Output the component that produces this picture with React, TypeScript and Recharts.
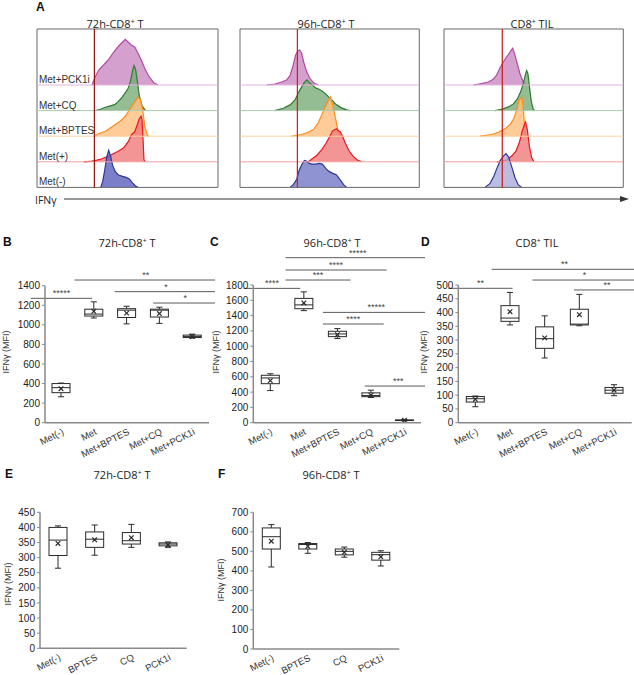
import React from 'react';
import { ComposedChart, Area, Bar, XAxis, YAxis, ReferenceLine, ReferenceArea } from 'recharts';

// ---------------- Panel A: flow histograms (x = IFNγ, % of log axis; h = scaled count) ----------------
const ROWS = ['Met(-)', 'Met(+)', 'Met+BPTES', 'Met+CQ', 'Met+PCK1i'];
const HIST_TITLES = ['72h-CD8', '96h-CD8', 'CD8'];
const HIST_TITLE_TAIL = [' T', ' T', ' TIL'];

const H72_PCK = [[30.4,0],[32.2,8.3],[34.1,15],[36.8,20],[39.6,25.7],[42.4,33],[45.1,39],[47.3,43],[48.8,45.7],[50.3,43],[52.1,40],[54.0,38],[55.8,31.7],[57.6,25],[59.5,16.7],[61.7,9],[64.5,2.3],[66.9,0]];
const H72_CQ = [[32.2,0],[35.0,1.3],[37.8,3.3],[40.5,4.7],[42.9,6],[44.8,9],[46.6,12.3],[48.4,17],[50.3,22],[51.7,30],[52.9,40.7],[53.6,45],[54.5,41],[55.4,30],[56.5,15],[58.0,5],[59.9,0]];
const H72_BPTES = [[31.3,0],[34.1,2.7],[37.8,5],[40.5,8.3],[43.3,11.7],[46.0,15],[48.8,20],[50.6,25],[52.5,30],[54.3,35],[55.8,39],[57.1,36.7],[58.4,26.7],[59.5,10],[61.0,0.7],[62.1,0]];
const H72_METP = [[25.8,0],[30.4,0.7],[33.1,1.7],[35.9,3],[39.6,5.7],[42.4,8.3],[45.1,10.7],[47.9,14],[50.6,20.7],[52.1,27],[54.0,30],[55.4,37],[56.5,43],[57.5,45.7],[58.0,42.3],[58.6,22],[59.1,2],[59.9,0]];
const H72_METN = [[35.2,0],[36.3,6],[37.4,17],[38.5,30],[39.6,37],[40.7,31],[41.8,22],[43.3,15.7],[45.1,12.3],[47.3,11],[49.2,10],[51.0,8.3],[52.9,4.3],[54.7,1],[55.8,0]];

const H96_PCK = [[14.9,0],[19.5,1],[23.2,3],[26.0,5],[27.9,9.3],[29.7,20],[31.0,30],[32.2,34],[33.3,35],[34.4,31.7],[35.5,23],[37.2,13.3],[39.0,6.7],[40.9,2.3],[43.7,0]];
const H96_CQ = [[19.5,0],[24.2,2.3],[27.9,5.7],[30.7,10.7],[32.9,19],[34.8,25],[36.2,29],[37.4,30.7],[38.5,28.3],[40.3,25.7],[42.2,22.7],[44.1,21.3],[45.9,19.3],[47.8,16.7],[49.6,13.3],[51.5,10],[53.7,6],[56.3,3],[59.5,0.7],[61.3,0]];
const H96_BPTES = [[28.8,0],[34.4,1.7],[38.1,4],[40.9,6.7],[43.3,12.3],[45.5,21],[47.4,29],[49.3,36],[50.4,39.3],[51.5,33],[53.0,20],[54.5,7],[55.9,0]];
const H96_METP = [[38.1,0],[40.3,3],[42.8,6.3],[45.5,12],[47.8,18],[50.0,25],[51.5,30.7],[53.0,32.3],[53.9,33],[54.8,31],[55.9,30],[57.1,25.7],[58.9,18],[60.8,11],[63.0,5.7],[65.2,2],[67.8,0]];
const H96_METN = [[27.9,0],[29.7,2.7],[31.6,7.7],[32.9,16.7],[34.4,22.7],[35.9,27],[37.0,26.3],[38.5,24],[40.3,23.3],[42.2,23.3],[44.1,24],[45.9,23.3],[47.8,19],[49.6,16],[51.5,14.3],[53.7,12.7],[55.8,7.7],[57.8,2.7],[59.5,0]];

const HTIL_PCK = [[16.4,0],[21.0,1.3],[24.7,3],[27.5,5.7],[29.4,10],[31.2,17],[33.1,23],[34.9,28],[36.4,31.7],[37.5,35],[38.3,36.7],[39.4,31],[40.9,21],[42.4,11],[44.2,3],[46.1,0]];
const HTIL_CQ = [[28.4,0],[32.2,1.3],[35.9,3.7],[38.7,6.7],[40.9,11.7],[42.8,19],[44.2,27],[45.4,36],[46.1,40],[46.8,37],[47.8,22],[48.7,9],[49.8,1],[50.7,0]];
const HTIL_BPTES = [[20.1,0],[26.6,1.7],[30.3,4],[34.0,7.3],[36.8,11.7],[39.0,18],[40.5,26],[41.8,36],[43.3,39.3],[44.1,31],[44.8,14],[45.7,1.7],[46.5,0]];
const HTIL_METP = [[29.4,0],[34.9,1.7],[37.7,5.7],[40.1,10.7],[42.0,19],[43.5,30],[44.8,37],[45.5,39.7],[46.5,32],[47.6,15.7],[48.9,4],[50.2,0]];
const HTIL_METN = [[22.9,0],[25.7,4],[27.9,11.7],[29.7,20],[31.6,27.7],[33.5,32],[34.6,33.7],[36.1,30],[37.7,21],[39.6,9.7],[41.4,2.7],[43.3,0]];

const HIST_GATES = [31.7, 32.0, 32.5];
const HIST_DECADES = [12, 31.7, 51.4, 71.1, 90.8];

// ---------------- Panels B–F: box plots. stats rows: [min, q1, median, q3, max, mean] ----------------
const CAT_BCD = ['Met(-)', 'Met', 'Met+BPTES', 'Met+CQ', 'Met+PCK1i'];
const CAT_EF = ['Met(-)', 'BPTES', 'CQ', 'PCK1i'];

const B_STATS = [[265,307,358,400,405,347],[1070,1090,1110,1160,1235,1138],[1010,1075,1150,1165,1190,1120],[1015,1080,1150,1160,1180,1115],[865,870,880,895,905,880]];
const C_STATS = [[420,510,585,620,640,550],[1465,1490,1540,1625,1710,1565],[1100,1125,1160,1195,1230,1150],[330,340,355,390,425,360],[25,28,32,36,40,32]];
const D_STATS = [[58,75,87,95,97,85],[355,368,380,425,473,403],[235,270,305,348,388,308],[352,355,358,412,466,392],[98,107,118,128,138,118]];
const E_STATS = [[265,307,358,400,405,347],[308,334,361,385,408,359],[334,345,356,383,410,366],[334,339,345,349,352,342]];
const F_STATS = [[420,512,575,620,637,552],[490,512,535,540,545,525],[470,482,500,512,522,495],[425,455,483,495,503,472]];

const B_TICKS = [0,200,400,600,800,1000,1200,1400];
const C_TICKS = [0,200,400,600,800,1000,1200,1400,1600,1800];
const D_TICKS = [0,50,100,150,200,250,300,350,400,450,500];
const E_TICKS = [0,50,100,150,200,250,300,350,400,450];
const F_TICKS = [0,100,200,300,400,500,600,700];

// significance brackets: from/to in group-index units, y in MFI
const B_SIG = [{from:-0.35,to:1.15,y:1271,label:'*****'},{from:0.72,to:4.2,y:1458,label:'**'},{from:1.7,to:4.2,y:1339,label:'*'},{from:2.64,to:4.2,y:1223,label:'*'}];
const C_SIG = [{from:-0.23,to:1.12,y:1756,label:'****'},{from:0.77,to:2.32,y:1865,label:'***'},{from:0.77,to:3.18,y:1996,label:'****'},{from:0.77,to:4.21,y:2157,label:'*****'},{from:1.66,to:4.21,y:1442,label:'*****'},{from:1.66,to:3.11,y:1290,label:'****'},{from:2.66,to:4.25,y:479,label:'***'}];
const D_SIG = [{from:-0.23,to:1.25,y:488,label:'**'},{from:0.77,to:4.13,y:557,label:'**'},{from:1.71,to:4.11,y:518,label:'*'},{from:2.67,to:4.19,y:482,label:'**'}];

// ---------------- styles / layout ----------------
const FONT = '"Liberation Sans", Arial, sans-serif';
const TFONT = '"Open Sans", "Liberation Sans", sans-serif';
const ROW_STEP = 25.6;
const HIST_TOP_UNITS = 158.4;
const HIST_TOP = 29.3;
const HIST_BOX = [{ left: 36.7, width: 181 }, { left: 240, width: 179.3 }, { left: 444, width: 179.3 }];
const ROW_STROKE = ['#2b3896', '#e8171f', '#ff8c1a', '#2e7a32', '#b24aa6'];
const ROW_FILL = ['#6367bd', '#f07a7a', '#ffbf80', '#79ad79', '#c98ac3'];
const ROW_LINE = ['#2b3896', '#f4a0a0', '#ffd0a0', '#a9cca9', '#e4b3df'];
const MET_NEG_FILL = ['#5a5fbb', '#7478c6', '#a9abd9'];
const GATE_COLOR = ['#9a1010', '#e01515', '#c81818'];

const HIST_TICKS: number[] = (() => {
  const dw = HIST_DECADES[1] - HIST_DECADES[0];
  const t: number[] = [...HIST_DECADES];
  [HIST_DECADES[0] - dw, ...HIST_DECADES].forEach((d) => {
    for (let k = 2; k <= 9; k++) {
      const v = +(d + dw * Math.log10(k)).toFixed(2);
      if (v > 0.5 && v < 99.5) t.push(v);
    }
  });
  return t.sort((a, b) => a - b);
})();

function buildTable(curves: { key: string; pts: number[][] }[]) {
  const map = new Map<number, any>();
  curves.forEach((c) =>
    c.pts.forEach(([x, h]) => {
      const row = map.get(x) ?? { x };
      row[c.key] = h;
      map.set(x, row);
    })
  );
  return Array.from(map.values()).sort((a, b) => a.x - b.x);
}

const HistTick = (p: any) => {
  const major = HIST_DECADES.includes(p.payload.value);
  return <line x1={p.x} x2={p.x} y1={p.y} y2={p.y - (major ? 4 : 2)} stroke="#3a3f7a" strokeWidth={1} />;
};

function HistPanel({ idx, curves, showLabels }: { idx: number; curves: number[][][]; showLabels: boolean }) {
  const box = HIST_BOX[idx];
  const pad = 4;
  const data = buildTable(curves.map((pts, i) => ({ key: 'r' + i, pts })));
  return (
    <div style={{ position: 'absolute', left: box.left - pad, top: HIST_TOP - pad }}>
      <ComposedChart width={box.width + 2 * pad} height={HIST_TOP_UNITS + 2 * pad} data={data} margin={{ top: pad, right: pad, bottom: pad, left: pad }}>
        <XAxis type="number" dataKey="x" domain={[0, 100]} allowDataOverflow ticks={HIST_TICKS} interval={0} tick={HistTick} tickLine={false} axisLine={false} tickSize={0} tickMargin={0} height={0} />
        <YAxis type="number" domain={[0, HIST_TOP_UNITS]} allowDataOverflow hide />
        {ROWS.map((name, i) => (
          <ReferenceLine
            key={'b' + i}
            y={i * ROW_STEP}
            stroke={ROW_LINE[i]}
            strokeOpacity={i === 0 ? 0 : 1}
            strokeWidth={1}
            ifOverflow="visible"
            label={showLabels ? { value: name, position: 'insideBottomLeft', offset: 2, fontSize: 10, fill: '#333', fontFamily: FONT } : undefined}
          />
        ))}
        {[4, 3, 2, 1, 0].map((i) => (
          <Area
            key={'a' + i}
            type="linear"
            dataKey={(d: any) => (d['r' + i] == null ? null : i * ROW_STEP + d['r' + i])}
            baseValue={i * ROW_STEP}
            connectNulls
            isAnimationActive={false}
            stroke={ROW_STROKE[i]}
            strokeWidth={1.2}
            fill={i === 0 ? MET_NEG_FILL[idx] : ROW_FILL[i]}
            fillOpacity={0.8}
            dot={false}
            activeDot={false}
          />
        ))}
        <ReferenceLine x={HIST_GATES[idx]} stroke={GATE_COLOR[idx]} strokeWidth={1.2} ifOverflow="visible" />
        <ReferenceArea x1={0} x2={100} y1={0} y2={HIST_TOP_UNITS} fill="none" stroke="#666" strokeWidth={1} ifOverflow="visible" />
      </ComposedChart>
    </div>
  );
}

const BoxShape = (props: any) => {
  const { x, y, width, height, payload } = props;
  if (x == null || payload == null) return null;
  const { min, q1, med, q3, max, mean } = payload;
  const span = max - min;
  const py = (v: number) => (span === 0 ? y : y + (height * (max - v)) / span);
  const cx = x + width / 2;
  const cap = width * 0.17;
  const s = '#2a2a2a';
  const my = py(mean);
  return (
    <g>
      <line x1={cx} x2={cx} y1={py(max)} y2={py(q3)} stroke={s} strokeWidth={1} />
      <line x1={cx} x2={cx} y1={py(q1)} y2={py(min)} stroke={s} strokeWidth={1} />
      <line x1={cx - cap} x2={cx + cap} y1={py(max)} y2={py(max)} stroke={s} strokeWidth={1} />
      <line x1={cx - cap} x2={cx + cap} y1={py(min)} y2={py(min)} stroke={s} strokeWidth={1} />
      <rect x={x} y={py(q3)} width={width} height={Math.max(py(q1) - py(q3), 0.5)} fill="#fff" stroke={s} strokeWidth={1} />
      <line x1={x} x2={x + width} y1={py(med)} y2={py(med)} stroke={s} strokeWidth={1} />
      <line x1={cx - 2.3} x2={cx + 2.3} y1={my - 2.3} y2={my + 2.3} stroke={s} strokeWidth={1.2} />
      <line x1={cx - 2.3} x2={cx + 2.3} y1={my + 2.3} y2={my - 2.3} stroke={s} strokeWidth={1.2} />
    </g>
  );
};

const CatTick = (p: any) => (
  <g transform={`translate(${p.x},${p.y}) rotate(-27)`}>
    <text x={0} y={0} dy="0.72em" textAnchor="end" fontSize={9.5} fill="#333" fontFamily={FONT}>
      {p.payload.value}
    </text>
  </g>
);

type BoxCfg = { left: number; top: number; width: number; height: number; margin: any; xh: number };

function BoxPanel({ cfg, cats, stats, yTicks, sig }: { cfg: BoxCfg; cats: string[]; stats: number[][]; yTicks: number[]; sig: any[] }) {
  const data = cats.map((c, i) => ({ cat: c, min: stats[i][0], q1: stats[i][1], med: stats[i][2], q3: stats[i][3], max: stats[i][4], mean: stats[i][5] }));
  const n = cats.length;
  const top = yTicks[yTicks.length - 1];
  return (
    <div style={{ position: 'absolute', left: cfg.left, top: cfg.top }}>
      <ComposedChart width={cfg.width} height={cfg.height} data={data} margin={cfg.margin}>
        <XAxis xAxisId="c" dataKey="cat" type="category" height={cfg.xh} tick={CatTick} tickLine={false} tickSize={0} tickMargin={5} interval={0} axisLine={{ stroke: '#8a8a8a', strokeWidth: 1.5 }} />
        <XAxis xAxisId="n" type="number" domain={[-0.5, n - 0.5]} allowDataOverflow hide />
        <YAxis type="number" domain={[0, top]} ticks={yTicks} interval={0} width={32} allowDataOverflow tick={{ fontSize: 10, fill: '#222', fontFamily: FONT }} tickSize={3} tickMargin={2} tickLine={{ stroke: '#8a8a8a' }} axisLine={{ stroke: '#8a8a8a', strokeWidth: 1.5 }} />
        <Bar xAxisId="c" dataKey={(d: any) => [d.min, d.max]} barSize={18} shape={BoxShape} isAnimationActive={false} />
        {sig.map((s, i) => (
          <ReferenceLine
            key={'s' + i}
            xAxisId="n"
            segment={[{ x: s.from, y: s.y }, { x: s.to, y: s.y }]}
            stroke="#5a5a5a"
            strokeWidth={1}
            ifOverflow="visible"
            label={{ value: s.label, position: 'top', offset: 2, fontSize: 9, fill: '#444', fontFamily: FONT }}
          />
        ))}
      </ComposedChart>
    </div>
  );
}

const BOX_B: BoxCfg = { left: 0, top: 245, width: 215, height: 230, margin: { top: 40.7, right: 6, bottom: 2.3, left: 13 }, xh: 50 };
const BOX_C: BoxCfg = { left: 210, top: 245, width: 215, height: 230, margin: { top: 40, right: 4, bottom: 2.3, left: 11.3 }, xh: 50 };
const BOX_D: BoxCfg = { left: 418, top: 245, width: 216, height: 230, margin: { top: 40, right: 2.3, bottom: 2.3, left: 8.3 }, xh: 50 };
const BOX_E: BoxCfg = { left: 0, top: 490, width: 195, height: 185, margin: { top: 22.3, right: 8.3, bottom: 0.7, left: 8 }, xh: 26 };
const BOX_F: BoxCfg = { left: 210, top: 490, width: 195, height: 185, margin: { top: 22.3, right: 5.7, bottom: 0, left: 11.3 }, xh: 26 };

const Letter = ({ x, y, t }: { x: number; y: number; t: string }) => (
  <div style={{ position: 'absolute', left: x, top: y, transform: 'translateY(-50%)', fontFamily: FONT, fontWeight: 'bold', fontSize: 12, color: '#111', lineHeight: 1 }}>{t}</div>
);

const Title = ({ x, y, head, tail }: { x: number; y: number; head: string; tail: string }) => (
  <div style={{ position: 'absolute', left: x, top: y, transform: 'translate(-50%,-50%)', fontFamily: TFONT, fontSize: 11, color: '#222', whiteSpace: 'nowrap', lineHeight: 1 }}>
    {head}
    <sup style={{ fontSize: '0.62em', verticalAlign: '0.45em', lineHeight: 0 }}>+</sup>
    {tail}
  </div>
);

const YLab = ({ x, y }: { x: number; y: number }) => (
  <div style={{ position: 'absolute', left: x, top: y, transform: 'translate(-50%,-50%) rotate(-90deg)', fontFamily: FONT, fontSize: 9, color: '#333', whiteSpace: 'nowrap', lineHeight: 1 }}>IFNγ (MFI)</div>
);

export default function App() {
  return (
    <div style={{ position: 'absolute', left: 0, top: 0, width: 634, height: 675, background: '#fff', overflow: 'hidden', fontFamily: FONT }}>
      <Letter x={36} y={7} t="A" />
      <Title x={115} y={23} head={HIST_TITLES[0]} tail={HIST_TITLE_TAIL[0]} />
      <Title x={326} y={23} head={HIST_TITLES[1]} tail={HIST_TITLE_TAIL[1]} />
      <Title x={532} y={23} head={HIST_TITLES[2]} tail={HIST_TITLE_TAIL[2]} />
      <HistPanel idx={0} curves={[H72_METN, H72_METP, H72_BPTES, H72_CQ, H72_PCK]} showLabels />
      <HistPanel idx={1} curves={[H96_METN, H96_METP, H96_BPTES, H96_CQ, H96_PCK]} showLabels={false} />
      <HistPanel idx={2} curves={[HTIL_METN, HTIL_METP, HTIL_BPTES, HTIL_CQ, HTIL_PCK]} showLabels={false} />
      <svg style={{ position: 'absolute', left: 0, top: 190 }} width={634} height={22}>
        <text x={35} y={14} fontSize={10.5} fill="#222" fontFamily={TFONT}>IFNγ</text>
        <line x1={64} x2={622} y1={9} y2={9} stroke="#333" strokeWidth={1} />
        <polygon points="629,9 620,6 620,12" fill="#333" />
      </svg>

      <Letter x={3} y={242} t="B" />
      <Title x={127} y={241.5} head="72h-CD8" tail=" T" />
      <Letter x={210} y={242} t="C" />
      <Title x={332} y={241.5} head="96h-CD8" tail=" T" />
      <Letter x={421} y={242} t="D" />
      <Title x={537} y={241.5} head="CD8" tail=" TIL" />
      <BoxPanel cfg={BOX_B} cats={CAT_BCD} stats={B_STATS} yTicks={B_TICKS} sig={B_SIG} />
      <BoxPanel cfg={BOX_C} cats={CAT_BCD} stats={C_STATS} yTicks={C_TICKS} sig={C_SIG} />
      <BoxPanel cfg={BOX_D} cats={CAT_BCD} stats={D_STATS} yTicks={D_TICKS} sig={D_SIG} />
      <YLab x={6} y={352} />
      <YLab x={216} y={352} />
      <YLab x={424} y={352} />

      <Letter x={5} y={474} t="E" />
      <Title x={122} y={474} head="72h-CD8" tail=" T" />
      <Letter x={218} y={474} t="F" />
      <Title x={331} y={474} head="96h-CD8" tail=" T" />
      <BoxPanel cfg={BOX_E} cats={CAT_EF} stats={E_STATS} yTicks={E_TICKS} sig={[]} />
      <BoxPanel cfg={BOX_F} cats={CAT_EF} stats={F_STATS} yTicks={F_TICKS} sig={[]} />
      <YLab x={8} y={584} />
      <YLab x={221} y={580} />
    </div>
  );
}
